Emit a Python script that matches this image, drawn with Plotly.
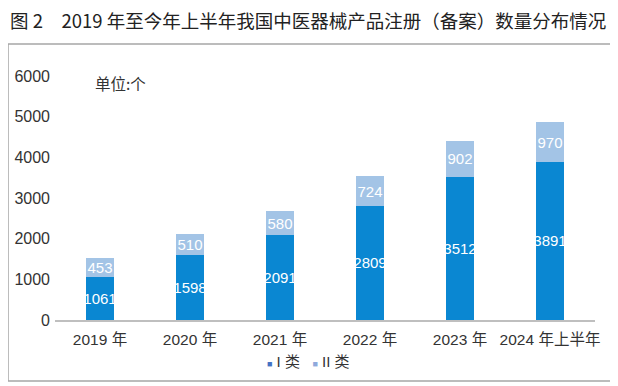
import plotly.graph_objects as go

categories = ["2019 年", "2020 年", "2021 年", "2022 年", "2023 年", "2024 年上半年"]
class1 = [1061, 1598, 2091, 2809, 3512, 3891]
class2 = [453, 510, 580, 724, 902, 970]
series_names = ["I 类", "II 类"]
y_ticks = [0, 1000, 2000, 3000, 4000, 5000, 6000]

FONT = "Noto Sans CJK SC, Liberation Sans, sans-serif"
NUMFONT = "Liberation Sans, Noto Sans CJK SC, sans-serif"
C1, C2 = "#0a87d2", "#a3c4e6"
L1, L2 = "#4472c4", "#8fa9dc"

# page body has an 8px margin: figure drawn 8px right/down of the window origin
W, H = 610, 378
ML, MR, MT, MB = 47, 23, 68, 66
PW, PH = W - ML - MR, H - MT - MB  # 540 x 244

def px(xp):  # figure px -> paper x
    return (xp - ML) / PW

def py(yp):  # figure px (from top) -> paper y
    return (H - MB - yp) / PH

fig = go.Figure()
for vals, col, name in zip([class1, class2], [C1, C2], series_names):
    fig.add_trace(go.Bar(x=categories, y=vals, name=name,
                         marker=dict(color=col, line=dict(width=0)),
                         text=[str(v) for v in vals], textposition="inside", textangle=0,
                         insidetextanchor="middle", constraintext="none",
                         textfont=dict(color="white", size=15,
                                       family="Liberation Sans Narrow, Liberation Sans"),
                         showlegend=False, width=0.31))

fig.update_layout(
    width=W, height=H,
    margin=dict(l=ML, r=MR, t=MT, b=MB, autoexpand=False),
    paper_bgcolor="white", plot_bgcolor="white",
    barmode="stack", bargap=0.69,
    font=dict(family=FONT, color="#333333", size=14),
    showlegend=False,
    xaxis=dict(showline=True, linecolor="#bfbfbf", linewidth=1.5, ticks="", automargin=False,
               ticklabelstandoff=5,
               tickfont=dict(size=15.5, color="#333333", family=NUMFONT), showgrid=False),
    yaxis=dict(range=[0, 6000], tickvals=y_ticks, showgrid=False, zeroline=False, automargin=False,
               showline=False, ticks="", ticklabelstandoff=4,
               tickfont=dict(size=16, color="#333333", family=NUMFONT)),
)

fig.add_annotation(text="图 2　2019 年至今年上半年我国中医器械产品注册（备案）数量分布情况",
                   xref="paper", yref="paper", x=px(0), y=py(12),
                   xanchor="left", yanchor="middle", showarrow=False,
                   font=dict(size=18.5, color="#222222", family=FONT))
fig.add_annotation(text="单位:个", xref="paper", yref="paper", x=px(85), y=py(75),
                   xanchor="left", yanchor="middle", showarrow=False,
                   font=dict(size=15.5, color="#333333"))
# legend (compact, as in the reference)
legend_text = "   ".join(
    f"<span style='color:{c};font-size:9px'>■</span> {n}"
    for n, c in zip(series_names, [L1, L2]))
fig.add_annotation(text=legend_text, xref="paper", yref="paper", x=px(300), y=py(353),
                   xanchor="center", yanchor="middle", showarrow=False,
                   font=dict(size=15, color="#333333", family=NUMFONT))
# frame
fig.add_shape(type="rect", xref="paper", yref="paper",
              x0=px(0), x1=px(603), y0=py(373), y1=py(36),
              line=dict(color="#a6a6a6", width=1.5), fillcolor="rgba(0,0,0,0)", layer="below")

fig.write_html("out.html")
